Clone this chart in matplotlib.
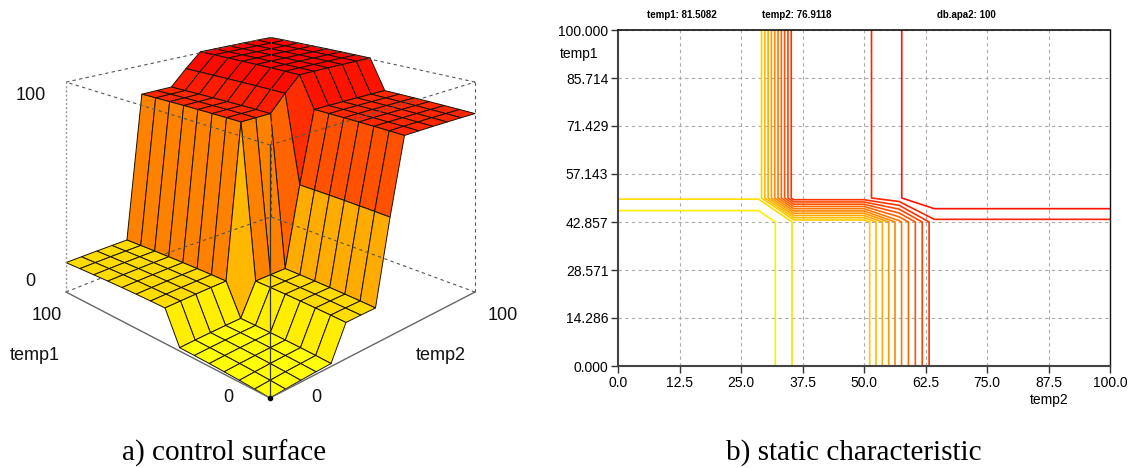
"""Control surface and static characteristic of a fuzzy controller."""

import numpy as np
import matplotlib
matplotlib.use("Agg")
import matplotlib.pyplot as plt
from matplotlib.collections import PolyCollection
from matplotlib.colors import LinearSegmentedColormap

plt.rcParams["font.family"] = ["Liberation Sans", "DejaVu Sans"]

# 15 x 15 mesh on both inputs
temp1 = [0.0, 7.143, 14.286, 21.429, 28.571, 35.714, 42.857, 50.0, 57.143, 64.286,
         71.429, 78.571, 85.714, 92.857, 100.0]
temp2 = [0.0, 7.143, 14.286, 21.429, 28.571, 35.714, 42.857, 50.0, 57.143, 64.286,
         71.429, 78.571, 85.714, 92.857, 100.0]

# output along temp2, for temp1 below / above the step
output_low = [0, 0, 0, 0, 0, 14, 14, 14, 51, 85, 85, 85, 85, 85, 85]
output_high = [14, 14, 14, 14, 14, 85, 85, 85, 92.8, 100, 100, 100, 100, 100, 100]
n_low_rows = 7

levels = [100 * k / 15 for k in range(1, 15)]
x_ticks = [0.0, 12.5, 25.0, 37.5, 50.0, 62.5, 75.0, 87.5, 100.0]
y_ticks = [0.000, 14.286, 28.571, 42.857, 57.143, 71.429, 85.714, 100.000]

W, H = 1134, 468
hot = LinearSegmentedColormap.from_list("yr", ["#ffff00", "#ff0000"])


def project(t2, t1, z):
    # fitted on the corners of the box and the mesh, verticals stay vertical
    x = np.asarray(t2, dtype=float) / 100
    y = np.asarray(t1, dtype=float) / 100
    z = np.asarray(z, dtype=float) / 100
    u = (270 + 233.5 * x - 200.0 * y) / (1 + 0.06 * (x + y))
    v = (398 - 46.1 * (x + y) - 253 * z) / (1 + 0.205 * (x + y))
    return u, v


def box_line(ax, p, q, **kw):
    u, v = project([p[0], q[0]], [p[1], q[1]], [p[2], q[2]])
    ax.plot(u, v, zorder=3, **kw)


def draw_surface(ax, Z):
    polys, vals, order = [], [], []
    for i in range(len(temp1) - 1):
        for j in range(len(temp2) - 1):
            t2 = [temp2[j], temp2[j + 1], temp2[j + 1], temp2[j]]
            t1 = [temp1[i], temp1[i], temp1[i + 1], temp1[i + 1]]
            zz = [Z[i, j], Z[i, j + 1], Z[i + 1, j + 1], Z[i + 1, j]]
            u, v = project(t2, t1, zz)
            polys.append(np.column_stack([u, v]))
            vals.append(np.mean(zz))
            order.append(i + j)
    idx = np.argsort(order)[::-1]
    pc = PolyCollection([polys[k] for k in idx], facecolors=hot(np.array(vals)[idx] / 100),
                        edgecolors="#1a1000", linewidths=0.7, zorder=2)
    ax.add_collection(pc)


def main():
    Z = np.array([output_low] * n_low_rows + [output_high] * (len(temp1) - n_low_rows), dtype=float)

    fig = plt.figure(figsize=(W / 100, H / 100), dpi=100)

    # left panel, axes in pixels of the figure
    ax = fig.add_axes([0, 0, 1, 1])
    ax.set_xlim(0, W)
    ax.set_ylim(H, 0)
    ax.axis("off")
    draw_surface(ax, Z)

    dash = dict(color="#555555", lw=0.8, ls=(0, (3, 3)))
    solid = dict(color="#666666", lw=1.0)
    # back bottom edge is hidden under the flat part of the surface
    box_line(ax, (0, 100, 0), (17, 100, 0), **dash)
    box_line(ax, (47, 100, 0), (100, 100, 0), **dash)
    box_line(ax, (100, 0, 0), (100, 100, 0), **dash)
    box_line(ax, (0, 100, 100), (100, 100, 100), **dash)
    box_line(ax, (100, 0, 100), (100, 100, 100), **dash)
    box_line(ax, (0, 0, 100), (100, 0, 100), **dash)
    box_line(ax, (0, 0, 100), (0, 100, 100), **dash)
    box_line(ax, (100, 100, 0), (100, 100, 100), **dash)
    box_line(ax, (0, 100, 0), (0, 100, 100), color="#999999", lw=1.0, ls=(0, (1.5, 1.5)))
    box_line(ax, (100, 0, 0), (100, 0, 100), **dash)
    box_line(ax, (0, 0, 0), (0, 0, 100), color="#333333", lw=0.9)
    box_line(ax, (0, 0, 0), (100, 0, 0), **solid)
    box_line(ax, (0, 0, 0), (0, 100, 0), **solid)
    u0, v0 = project(0, 0, 0)
    ax.plot([u0], [v0], "o", color="black", ms=3, zorder=4)

    fs = 13
    for s, x, y in [("100", 31, 96), ("0", 30, 282), ("100", 47, 315), ("temp1", 34.5, 356),
                    ("0", 228, 397), ("0", 316, 397), ("100", 503, 315), ("temp2", 441, 356)]:
        ax.text(x, y, s, fontsize=fs, ha="center", va="center", color="#111111")

    ax.text(224, 453, "a) control surface", family="Liberation Serif", fontsize=21,
            ha="center", va="center")
    ax.text(854, 453, "b) static characteristic", family="Liberation Serif", fontsize=21,
            ha="center", va="center")

    # right panel
    ax2 = fig.add_axes([618 / W, 1 - 366 / H, (1110 - 618) / W, (366 - 30) / H])
    ax2.contour(temp2, temp1, Z, levels=levels, cmap=hot, vmin=0, vmax=100, linewidths=1.2)
    ax2.set_xlim(0, 100)
    ax2.set_ylim(0, 100)
    ax2.set_xticks(x_ticks)
    ax2.set_xticklabels([f"{t:.1f}" for t in x_ticks])
    ax2.set_yticks(y_ticks)
    ax2.set_yticklabels([f"{t:.3f}" for t in y_ticks])
    ax2.tick_params(labelsize=10, length=5, width=1, color="#333333", pad=2)
    ax2.grid(True, color="#aaaaaa", lw=0.8, ls=(0, (3, 3)))
    ax2.set_axisbelow(True)
    for side, col, lw in [("left", "#444444", 1.5), ("bottom", "#444444", 1.5),
                          ("top", "#111111", 1.2), ("right", "#111111", 1.0)]:
        ax2.spines[side].set_color(col)
        ax2.spines[side].set_linewidth(lw)

    ax.text(579, 54, "temp1", fontsize=10, ha="center", va="center", zorder=5)
    ax.text(1049, 400, "temp2", fontsize=10, ha="center", va="center", zorder=5)
    for s, x in [("temp1: 81.5082", 682), ("temp2: 76.9118", 797), ("db.apa2: 100", 966)]:
        ax.text(x, 15, s, fontsize=7, fontweight="bold", ha="center", va="center")

    fig.savefig("out.png", dpi=100)
    plt.close(fig)


if __name__ == "__main__":
    main()
